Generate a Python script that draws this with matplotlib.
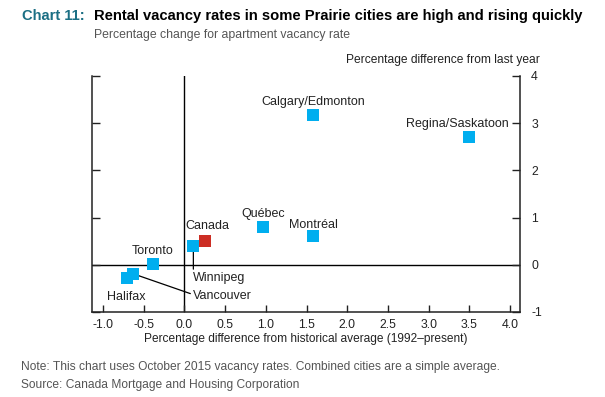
import matplotlib
matplotlib.use("Agg")
import matplotlib.pyplot as plt

plt.rcParams['font.family'] = ['Liberation Sans', 'DejaVu Sans']

# ---- data ----
cities = ["Calgary/Edmonton", "Regina/Saskatoon", "Québec", "Montréal",
          "Canada", "Winnipeg", "Toronto", "Vancouver", "Halifax"]
hist_diff = [1.58, 3.50, 0.97, 1.58, 0.25, 0.11, -0.39, -0.63, -0.70]
year_diff = [3.18, 2.70, 0.80, 0.62, 0.51, 0.40, 0.02, -0.19, -0.27]
highlight = ["Canada"]

xticks = [-1.0, -0.5, 0.0, 0.5, 1.0, 1.5, 2.0, 2.5, 3.0, 3.5, 4.0]
xtick_labels = ["-1.0", "-0.5", "0.0", "0.5", "1.0", "1.5", "2.0", "2.5", "3.0", "3.5", "4.0"]
yticks = [-1, 0, 1, 2, 3, 4]
ytick_labels = ["-1", "0", "1", "2", "3", "4"]

title_prefix = "Chart 11:"
title = "Rental vacancy rates in some Prairie cities are high and rising quickly"
subtitle = "Percentage change for apartment vacancy rate"
ylabel = "Percentage difference from last year"
xlabel = "Percentage difference from historical average (1992\u2013present)"
note = "Note: This chart uses October 2015 vacancy rates. Combined cities are a simple average."
source = "Source: Canada Mortgage and Housing Corporation"

# ---- style ----
W, H = 605, 397
DPI = 100
BLUE = "#00AEEF"
RED = "#CC2E24"
TEAL = "#1B6F84"
GREY = "#555555"
TXT = "#222222"
PT = 72.0 / DPI  # points per pixel

# label placement: (dx px, dy px upward, ha, leader, relpos)
label_style = {
    "Calgary/Edmonton": (0, 10, "center", False, None),
    "Regina/Saskatoon": (-12, 10, "center", False, None),
    "Québec": (0, 10, "center", False, None),
    "Montréal": (0, 8, "center", False, None),
    "Canada": (3, 12, "center", False, None),
    "Winnipeg": (0, -35, "left", True, (0.0, 1.0)),
    "Toronto": (0, 10, "center", False, None),
    "Vancouver": (60, -25, "left", True, (0.0, 0.6)),
    "Halifax": (-1, -22, "center", False, None),
}

fig = plt.figure(figsize=(W / DPI, H / DPI), dpi=DPI)
fig.patch.set_facecolor("white")

def fx(px):
    return px / W

def fy(py):
    return 1 - py / H

ax_l, ax_r, ax_t, ax_b = 92, 520, 76, 312
ax = fig.add_axes([fx(ax_l), fy(ax_b), fx(ax_r - ax_l), (ax_b - ax_t) / H])

# scale so x=-1 at 103px and x=4 at 510px
ppu = (510 - 103) / 5.0
x0px = 103 + ppu
ax.set_xlim((ax_l - x0px) / ppu, (ax_r - x0px) / ppu)
ax.set_ylim(-1, 4)

ax.axhline(0, color="black", lw=1.0, zorder=1)
ax.axvline(0, color="black", lw=1.0, zorder=1)

colors = [RED if c in highlight else BLUE for c in cities]
ax.scatter(hist_diff, year_diff, s=(12 * PT) ** 2, marker="s", c=colors,
           linewidths=0, zorder=4)

for c, xv, yv in zip(cities, hist_diff, year_diff):
    dx, dy, ha, leader, relpos = label_style[c]
    kw = {}
    if leader:
        kw["arrowprops"] = dict(arrowstyle="-", color="black", lw=0.9,
                                shrinkA=0, shrinkB=0, relpos=relpos)
    ax.annotate(c, xy=(xv, yv), xytext=(dx * PT, dy * PT),
                textcoords="offset points", ha=ha, va="baseline",
                fontsize=9, color=TXT, zorder=3, **kw)

for side in ["top"]:
    ax.spines[side].set_visible(False)
for side in ["left", "right", "bottom"]:
    ax.spines[side].set_linewidth(1.1)
    ax.spines[side].set_color("#222222")

ax.set_xticks(xticks)
ax.set_xticklabels(xtick_labels)
ax.set_yticks(yticks)
ax.set_yticklabels(ytick_labels)
ax.tick_params(axis="x", direction="in", length=5, width=1.0, labelsize=8.8,
               colors="#222222", pad=5)
ax.tick_params(axis="y", direction="in", length=6, width=1.0, labelsize=8.8,
               colors="#222222", left=True, right=True, labelleft=False,
               labelright=True, pad=8)
ax.patch.set_alpha(0)

renderer = fig.canvas.get_renderer()

def fit(t, target_px):
    w = t.get_window_extent(renderer).width
    t.set_fontsize(t.get_fontsize() * target_px / w)

t1 = fig.text(fx(94), fy(20), title, color="black", fontweight="bold",
              fontsize=10.5, va="baseline", ha="left")
fit(t1, 490)
t0 = fig.text(fx(22), fy(20), title_prefix, color=TEAL, fontweight="bold",
              fontsize=t1.get_fontsize(), va="baseline", ha="left")
t2 = fig.text(fx(94), fy(38), subtitle, color=GREY, fontsize=8.5,
              va="baseline", ha="left")
fit(t2, 255)
t3 = fig.text(fx(540), fy(63), ylabel, color=TXT, fontsize=8.5,
              va="baseline", ha="right")
fit(t3, 193)
t4 = fig.text(fx(306), fy(342), xlabel, color=TXT, fontsize=8.5,
              va="baseline", ha="center")
fit(t4, 322)
t5 = fig.text(fx(21), fy(370), note, color=GREY, fontsize=8.5,
              va="baseline", ha="left")
fit(t5, 476)
t6 = fig.text(fx(21), fy(388), source, color=GREY, fontsize=8.5,
              va="baseline", ha="left")
t6.set_fontsize(t5.get_fontsize())

fig.savefig("out.png", dpi=DPI)
